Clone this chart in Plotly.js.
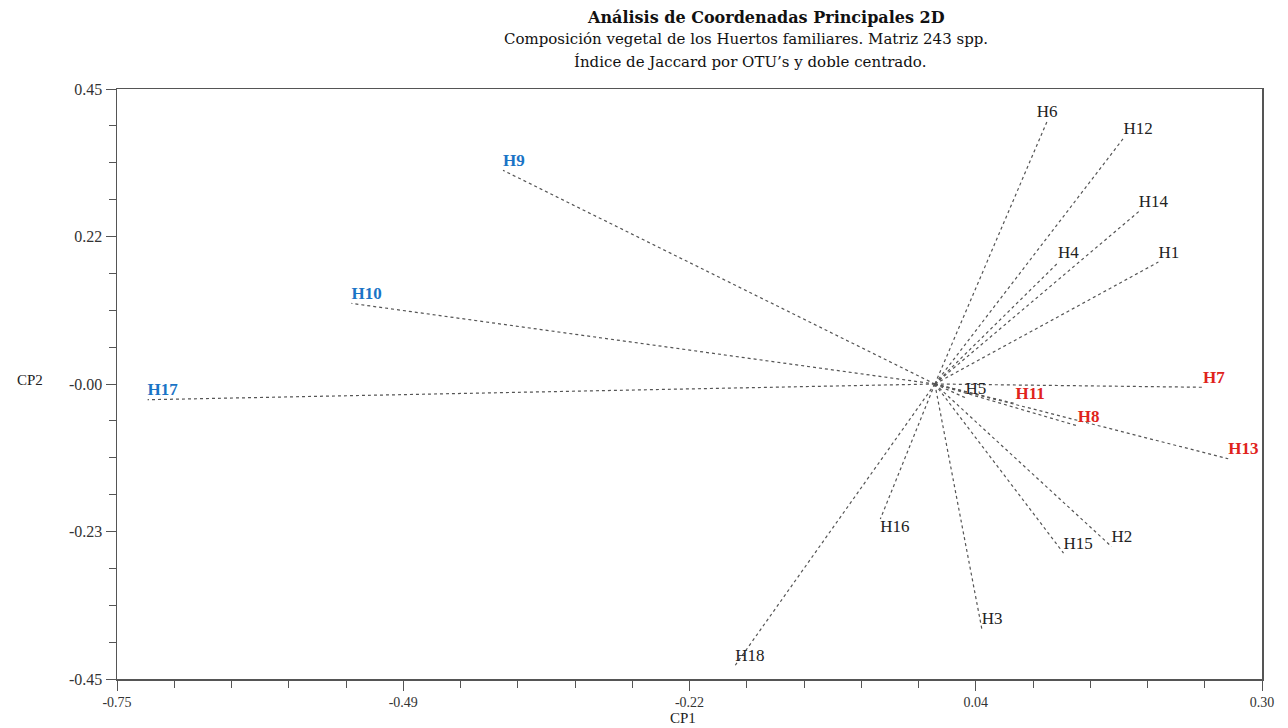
<!DOCTYPE html>
<html>
<head>
<meta charset="utf-8">
<script src="https://cdn.plot.ly/plotly-3.0.1.min.js"></script>
<style>html,body{margin:0;padding:0;background:#fff;}#chart{width:1288px;height:728px;}</style>
</head>
<body>
<div id="chart"></div>
<script>
// Data (PCoA scores)
const labels = ['H1','H2','H3','H4','H5','H6','H7','H8','H9','H10','H11','H12','H13','H14','H15','H16','H17','H18'];
const cp1 = [0.205, 0.162, 0.043, 0.113, 0.028, 0.103, 0.246, 0.131, -0.396, -0.535, 0.074, 0.173, 0.269, 0.187, 0.118, -0.050, -0.722, -0.183];
const cp2 = [0.186, -0.248, -0.373, 0.185, -0.021, 0.401, -0.005, -0.064, 0.326, 0.123, -0.030, 0.375, -0.114, 0.263, -0.258, -0.206, -0.024, -0.429];
const group = ['n','n','n','n','n','n','r','r','b','b','r','n','r','n','n','n','b','n'];
const xTickVals = [-0.75, -0.4875, -0.225, 0.0375, 0.30];
const xTickText = ['-0.75', '-0.49', '-0.22', '0.04', '0.30'];
const yTickVals = [0.45, 0.225, 0, -0.225, -0.45];
const yTickText = ['0.45', '0.22', '-0.00', '-0.23', '-0.45'];

const colorMap = {n: '#222222', r: '#e0231c', b: '#1a74c6'};
const serif = 'Liberation Serif, Times New Roman, serif';
const wideSerif = 'DejaVu Serif, Liberation Serif, serif';

// Vector segments from origin
const lx = [], ly = [];
for (let i = 0; i < labels.length; i++) {
  lx.push(0, cp1[i], null);
  ly.push(0, cp2[i], null);
}
const lines = {
  x: lx, y: ly, mode: 'lines', type: 'scatter', hoverinfo: 'skip',
  line: {color: '#555555', width: 1.2, dash: 'dot'}, showlegend: false
};

const posMap = {H6: 'top center', H16: 'bottom right'};
const texts = labels.map((l, i) => group[i] === 'n' ? l : '<b>' + l + '</b>');
const labelTrace = {
  x: cp1, y: cp2, mode: 'text', type: 'scatter', text: texts,
  textposition: labels.map(l => posMap[l] || 'top right'),
  textfont: {family: serif, size: 17, color: group.map(g => colorMap[g])},
  showlegend: false, hoverinfo: 'text'
};

const layout = {
  width: 1288, height: 728,
  margin: {l: 117, r: 26, t: 89, b: 49},
  paper_bgcolor: '#ffffff', plot_bgcolor: '#ffffff',
  showlegend: false,
  xaxis: {
    range: [-0.75, 0.30], showgrid: false, zeroline: false,
    showline: true, linecolor: '#555', linewidth: 1.5, mirror: true,
    tickmode: 'array', tickvals: xTickVals, ticktext: xTickText,
    ticks: 'outside', ticklen: 10, tickcolor: '#555', tickwidth: 1,
    minor: {tickmode: 'linear', tick0: -0.75, dtick: 0.0525, ticks: 'outside', ticklen: 7, tickcolor: '#555', showgrid: false},
    tickfont: {family: serif, size: 14, color: '#333'}
  },
  yaxis: {
    range: [-0.45, 0.45], showgrid: false, zeroline: false,
    showline: true, linecolor: '#555', linewidth: 1.5, mirror: true,
    tickmode: 'array', tickvals: yTickVals, ticktext: yTickText,
    ticks: 'outside', ticklen: 10, tickcolor: '#555', tickwidth: 1,
    minor: {tickmode: 'linear', tick0: -0.45, dtick: 0.05625, ticks: 'outside', ticklen: 7, tickcolor: '#555', showgrid: false},
    tickfont: {family: serif, size: 16, color: '#333'}
  },
  annotations: [
    {text: '<b>Análisis de Coordenadas Principales 2D</b>', xref: 'paper', yref: 'paper', x: 0.567, y: 1, yshift: 72, xanchor: 'center', yanchor: 'middle', showarrow: false, font: {family: wideSerif, size: 16, color: '#111'}},
    {text: 'Composición vegetal de los Huertos familiares. Matriz 243 spp.', xref: 'paper', yref: 'paper', x: 0.549, y: 1, yshift: 50, xanchor: 'center', yanchor: 'middle', showarrow: false, font: {family: wideSerif, size: 15, color: '#111'}},
    {text: 'Índice de Jaccard por OTU’s y doble centrado.', xref: 'paper', yref: 'paper', x: 0.553, y: 1, yshift: 27, xanchor: 'center', yanchor: 'middle', showarrow: false, font: {family: wideSerif, size: 15, color: '#111'}},
    {text: 'CP1', xref: 'paper', yref: 'paper', x: 0.494, y: 0, yshift: -39, xanchor: 'center', yanchor: 'middle', showarrow: false, font: {family: serif, size: 15, color: '#222'}},
    {text: 'CP2', xref: 'paper', yref: 'paper', x: 0, xshift: -87, y: 0.5, yshift: 4, xanchor: 'center', yanchor: 'middle', showarrow: false, font: {family: serif, size: 15, color: '#222'}}
  ]
};

Plotly.newPlot('chart', [lines, labelTrace], layout, {displayModeBar: false, staticPlot: true});
</script>
</body>
</html>
